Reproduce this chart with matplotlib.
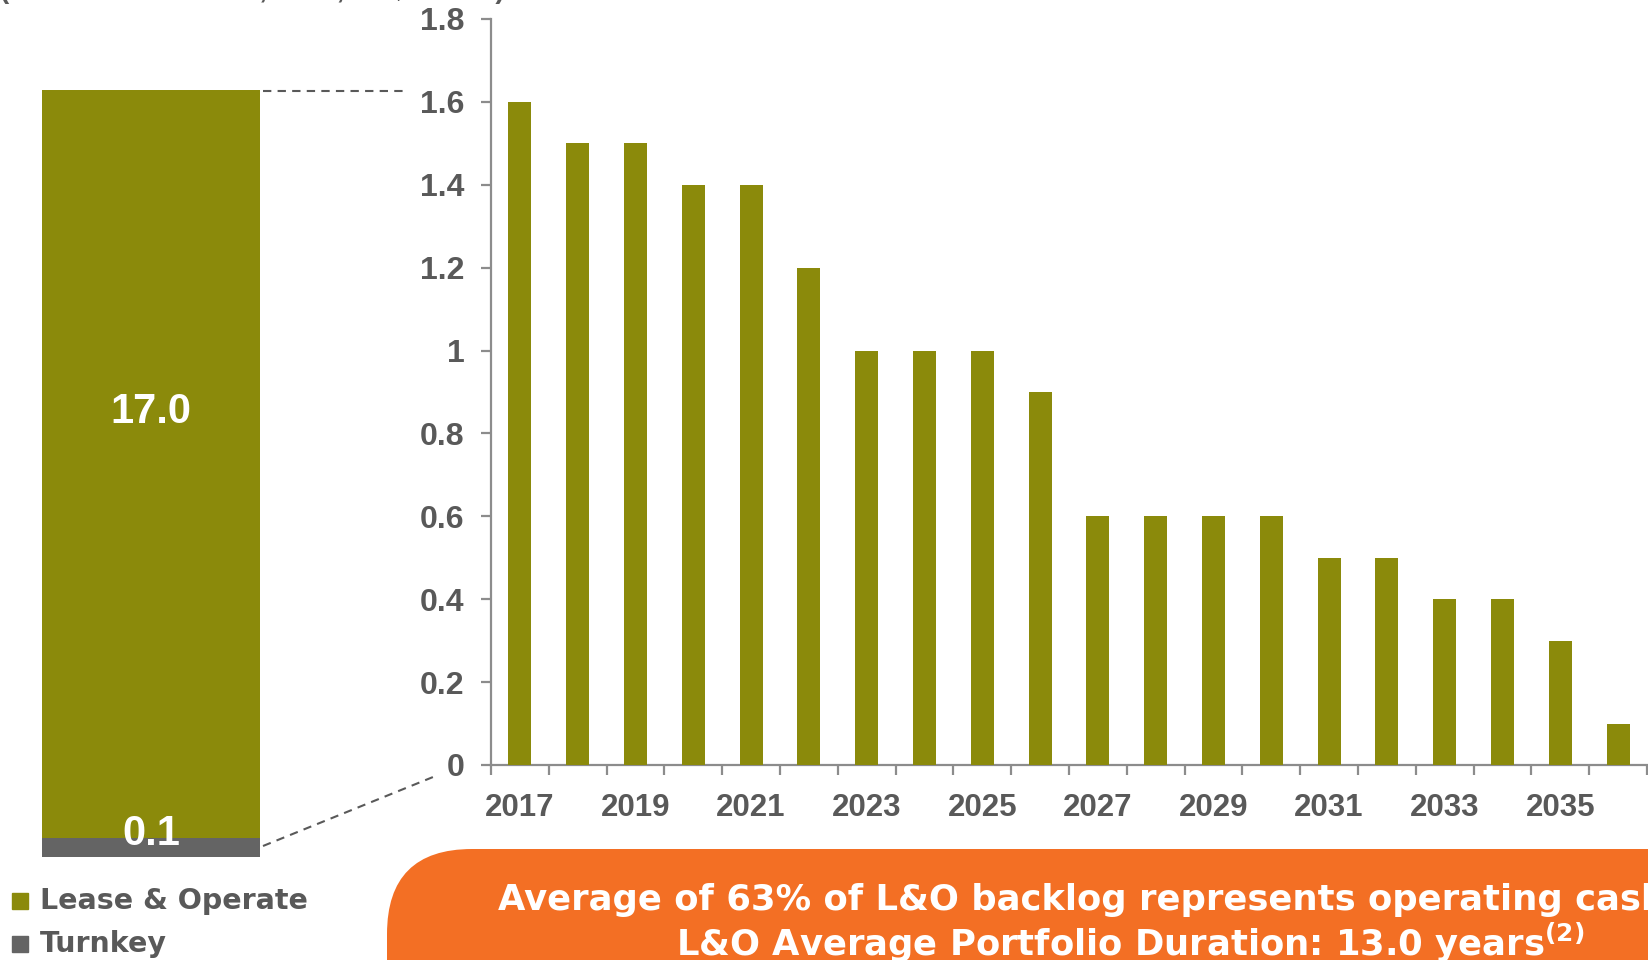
import matplotlib
matplotlib.use("Agg")
import matplotlib.pyplot as plt
from matplotlib.patches import FancyBboxPatch, Rectangle

# ---------------- data ----------------
years = list(range(2017, 2037))
lo_backlog = [1.6, 1.5, 1.5, 1.4, 1.4, 1.2, 1.0, 1.0, 1.0, 0.9,
              0.6, 0.6, 0.6, 0.6, 0.5, 0.5, 0.4, 0.4, 0.3, 0.1]
year_labels = [str(y) for y in range(2017, 2037, 2)]
y_ticks = [0, 0.2, 0.4, 0.6, 0.8, 1.0, 1.2, 1.4, 1.6, 1.8]
y_tick_labels = ["0", "0.2", "0.4", "0.6", "0.8", "1", "1.2", "1.4", "1.6", "1.8"]
total_categories = ["Turnkey", "Lease & Operate"]
total_values = [0.1, 17.0]
total_labels = ["0.1", "17.0"]
legend_labels = ["Lease & Operate", "Turnkey"]
header = "(As of December 31, 2016, US$ billion)"
banner_line1 = "Average of 63% of L&O backlog represents operating cash flow"
banner_line2 = r"L&O Average Portfolio Duration: 13.0 years$^{\mathbf{(2)}}$"

# ---------------- style ----------------
OLIVE = "#8B8A0B"
GRAY = "#646464"
TXT = "#595959"
SPINE = "#8C8C8C"
ORANGE = "#F36F24"
turnkey_visual_min = 0.43   # keep the tiny segment visible (not to scale in original)

plt.rcParams["mathtext.fontset"] = "custom"
plt.rcParams["mathtext.rm"] = "DejaVu Sans"
plt.rcParams["mathtext.bf"] = "DejaVu Sans:bold"

W, H = 1648, 960
fig = plt.figure(figsize=(W / 100, H / 100), dpi=100)
fig.patch.set_facecolor("white")

def fx(px):
    return px / W

def fy(py):  # pixel from top -> figure fraction from bottom
    return 1 - py / H

# ---------------- main bar chart ----------------
x0, x1 = 491, 491 + 57.8 * 20.6
y0, y1 = 765, 19
ax = fig.add_axes([fx(x0), fy(y0), fx(x1 - x0), (y0 - y1) / H])
ax.bar(years, lo_backlog, width=0.4, color=OLIVE, zorder=3)
ax.set_xlim(2016.5, 2016.5 + 20.6)
ax.set_ylim(0, 1.8)
for s in ["top", "right"]:
    ax.spines[s].set_visible(False)
for s in ["left", "bottom"]:
    ax.spines[s].set_color(SPINE)
    ax.spines[s].set_linewidth(1.6)
ax.set_yticks(y_ticks)
ax.set_yticklabels(y_tick_labels, fontfamily="Liberation Sans", fontweight="bold",
                   fontsize=23, color=TXT)
ax.tick_params(axis="y", length=7, width=1.6, color=SPINE, pad=12)
ax.set_xticks([2016.5 + k for k in range(21)])
ax.set_xticklabels([])
ax.tick_params(axis="x", which="major", length=7, width=1.6, color=SPINE)
ax.set_xticks([int(l) for l in year_labels], minor=True)
ax.set_xticklabels(year_labels, minor=True, fontfamily="Liberation Sans",
                   fontweight="bold", fontsize=22.5, color=TXT)
ax.tick_params(axis="x", which="minor", length=0, pad=20)

# ---------------- left stacked total bar ----------------
lx0, lx1 = 42, 260
ltop, lbot = 90, 857
axl = fig.add_axes([fx(lx0), fy(lbot), fx(lx1 - lx0), (lbot - ltop) / H])
turnkey_h = max(total_values[0], turnkey_visual_min)
axl.bar([0], [turnkey_h], width=1.0, color=GRAY)
axl.bar([0], [total_values[1]], bottom=[turnkey_h], width=1.0, color=OLIVE)
axl.set_xlim(-0.5, 0.5)
axl.set_ylim(0, turnkey_h + total_values[1])
axl.axis("off")
axl.text(0, turnkey_h + total_values[1] * 0.57, total_labels[1], ha="center", va="center",
         color="white", fontsize=30, fontweight="bold", fontfamily="Liberation Sans")
axl.text(0, turnkey_h * 1.2, total_labels[0], ha="center", va="center",
         color="white", fontsize=30, fontweight="bold", fontfamily="Liberation Sans")

# ---------------- overlay (pixel coords) ----------------
ov = fig.add_axes([0, 0, 1, 1], zorder=-1)
ov.set_xlim(0, W)
ov.set_ylim(H, 0)
ov.axis("off")
ov.plot([263, 405], [91, 91], ls=(0, (4, 3)), color=TXT, lw=1.5)
ov.plot([263, 438], [846, 775], ls=(0, (4, 3)), color=TXT, lw=1.5)

# header (mostly cut off at the top edge, as in the original)
ov.text(0, 4, header, ha="left", va="bottom", fontsize=20, fontweight="bold",
        fontfamily="Liberation Sans", color=TXT)

# legend
ov.add_patch(Rectangle((12, 893), 16, 16, color=OLIVE))
ov.add_patch(Rectangle((12, 936), 16, 16, color=GRAY))
ov.text(40, 901, legend_labels[0], ha="left", va="center", fontsize=20.5,
        fontweight="bold", fontfamily="DejaVu Sans", color=TXT)
ov.text(40, 944, legend_labels[1], ha="left", va="center", fontsize=20.5,
        fontweight="bold", fontfamily="DejaVu Sans", color=TXT)

# orange banner
ov.add_patch(FancyBboxPatch((387, 849), 1600, 300,
                            boxstyle="round,pad=0,rounding_size=85",
                            facecolor=ORANGE, edgecolor="none"))
ov.text(1130, 900, banner_line1, ha="center", va="center", fontsize=25.5,
        fontweight="bold", fontfamily="DejaVu Sans", color="white")
ov.text(1130, 943, banner_line2, ha="center", va="center", fontsize=25.5,
        fontweight="bold", fontfamily="DejaVu Sans", color="white")

fig.savefig("out.png", dpi=100)
